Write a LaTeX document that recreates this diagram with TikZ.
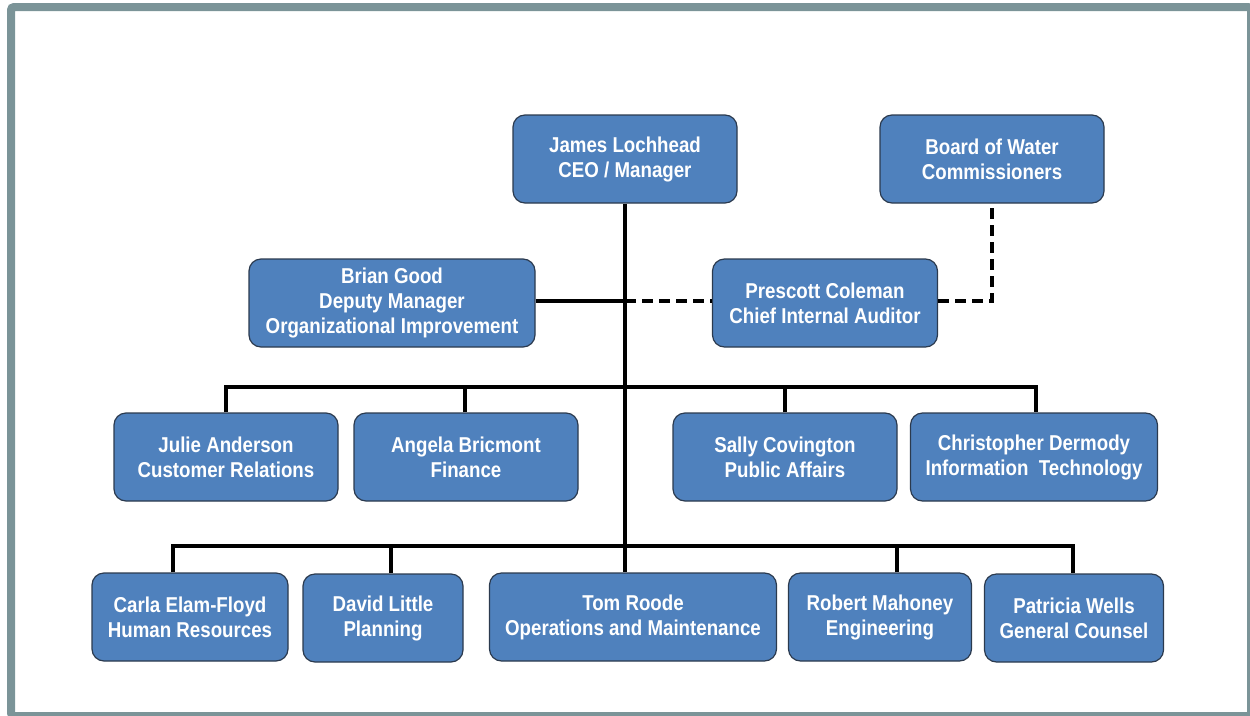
\documentclass[tikz,border=0pt]{standalone}
\usepackage{fontspec}
\newfontfamily\boxfont{Liberation Sans}[FakeStretch=0.87]
\definecolor{boxblue}{HTML}{4F81BD}
\definecolor{boxedge}{HTML}{2B3A4E}
\definecolor{framegrey}{HTML}{7B9498}
\tikzset{
  orgbox/.style={draw=boxedge, line width=1.2pt, fill=boxblue, rounded corners=12pt,
    text=white, align=center, inner sep=0pt, minimum height=88pt,
    font=\boxfont\bfseries\fontsize{21.5}{25}\selectfont,
    execute at begin node={\rule{0pt}{20pt}}},
  solidlink/.style={line width=4pt, draw=black},
  dashlink/.style={line width=4pt, draw=black, dash pattern=on 11pt off 6pt}
}
\begin{document}
\begin{tikzpicture}[x=1pt, y=-1pt]
  \useasboundingbox (0,0) rectangle (1250,715);
  % page frame
  \draw[framegrey, line width=8pt, rounded corners=3pt] (11,7) rectangle (1251,716);

  % boxes
  \node[orgbox, minimum width=224pt] (james) at (625,159) {James Lochhead\\CEO / Manager};
  \node[orgbox, minimum width=224pt] (board) at (992,159) {Board of Water\\Commissioners};
  \node[orgbox, minimum width=286pt] (brian) at (392,303) {Brian Good\\Deputy Manager\\Organizational Improvement};
  \node[orgbox, minimum width=225pt] (prescott) at (825,303) {Prescott Coleman\\Chief Internal Auditor};
  \node[orgbox, minimum width=224pt] (julie) at (226,457) {Julie Anderson\\Customer Relations};
  \node[orgbox, minimum width=224pt] (angela) at (466,457) {Angela Bricmont\\Finance};
  \node[orgbox, minimum width=224pt] (sally) at (785,457) {Sally Covington\\Public Affairs};
  \node[orgbox, minimum width=247pt] (chris) at (1034,457) {Christopher Dermody\\Information\ \ Technology};
  \node[orgbox, minimum width=196pt] (carla) at (190,617) {Carla Elam-Floyd\\Human Resources};
  \node[orgbox, minimum width=160pt] (david) at (383,618) {David Little\\Planning};
  \node[orgbox, minimum width=287pt] (tom) at (633,617) {Tom Roode\\Operations and Maintenance};
  \node[orgbox, minimum width=183pt] (robert) at (880,617) {Robert Mahoney\\Engineering};
  \node[orgbox, minimum width=179pt] (patricia) at (1074,618) {Patricia Wells\\General Counsel};

  % bus levels
  \coordinate (bus1) at (625,387);
  \coordinate (bus2) at (625,546);
  \coordinate (tee) at (625,301);

  % connectors
  \draw[solidlink] (james.south) -- (james.south |- tom.north);
  \draw[solidlink] (brian.east |- tee) -- (tee);
  \draw[dashlink] (tee) -- (prescott.west |- tee);
  \draw[dashlink] (prescott.east |- tee) -| (board.south);

  \draw[solidlink] (julie.north) |- (bus1) -| ([xshift=2pt]chris.north);
  \draw[solidlink] ([xshift=-1pt]angela.north) -- ([xshift=-1pt]angela.north |- bus1);
  \draw[solidlink] (sally.north) -- (sally.north |- bus1);

  \draw[solidlink] ([xshift=-17pt]carla.north) |- (bus2) -| ([xshift=-1pt]patricia.north);
  \draw[solidlink] ([xshift=8pt]david.north) -- ([xshift=8pt]david.north |- bus2);
  \draw[solidlink] ([xshift=17pt]robert.north) -- ([xshift=17pt]robert.north |- bus2);
\end{tikzpicture}
\end{document}
